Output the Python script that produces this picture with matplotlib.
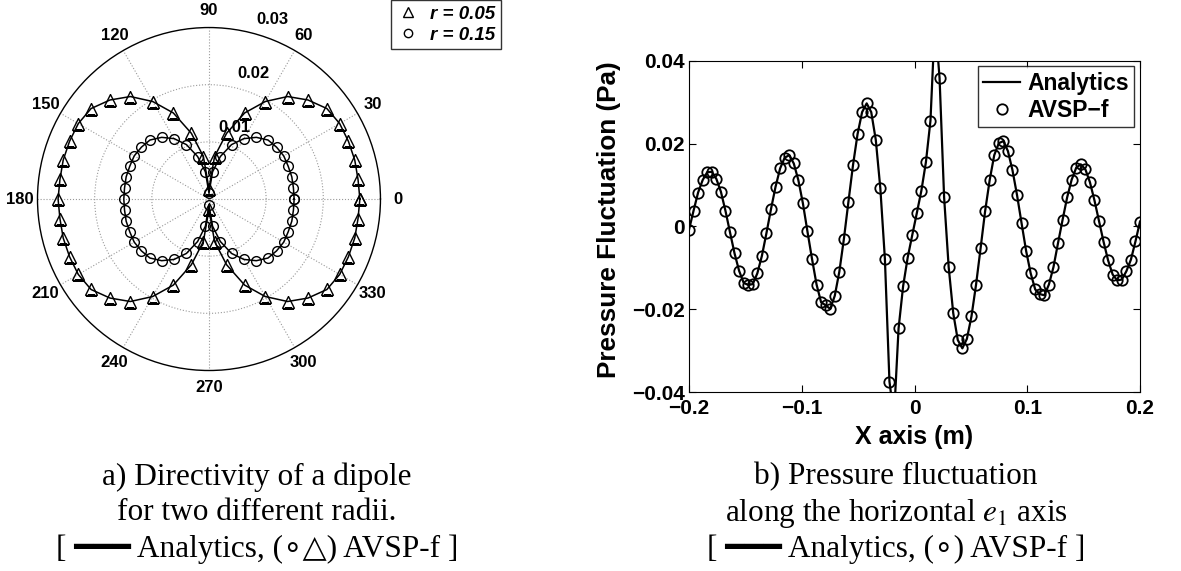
import matplotlib
matplotlib.use('Agg')
import matplotlib.pyplot as plt
from matplotlib.lines import Line2D
import numpy as np

plt.rcParams['font.family'] = ['Liberation Sans', 'DejaVu Sans']
plt.rcParams['mathtext.fontset'] = 'stix'

# --- directivity (left), one quadrant, 0..90 deg
theta_q = np.array([0, 7.5, 15, 22.5, 30, 37.5, 45, 52.5, 60, 67.5, 75, 82.5, 90])
r005_q = np.array([0.0264, 0.0263, 0.0264, 0.0264, 0.0264, 0.0260, 0.0245,
                   0.0226, 0.0197, 0.0163, 0.0119, 0.0075, 0.0018])
r015_q = np.array([0.0149, 0.0149, 0.0150, 0.0150, 0.0151, 0.0149, 0.0146,
                   0.0136, 0.0122, 0.0103, 0.0077, 0.0048, 0.0010])
rings = [0.01, 0.02, 0.03]
angle_labels = ['0', '30', '60', '90', '120', '150', '180', '210', '240', '270', '300', '330']

# --- pressure along e1 (right)
x_pos = np.linspace(-0.2, 0.2, 100)
p_fluct = [
    -0.0008, 0.0038, 0.0082, 0.0112, 0.0131, 0.0132, 0.0115, 0.0084, 0.0038, -0.0014,
    -0.0065, -0.0107, -0.0136, -0.0141, -0.0139, -0.0113, -0.0071, -0.0016, 0.0042, 0.0096,
    0.0140, 0.0166, 0.0172, 0.0152, 0.0112, 0.0056, -0.0012, -0.0078, -0.0140, -0.0183,
    -0.0190, -0.0199, -0.0167, -0.0109, -0.0030, 0.0060, 0.0148, 0.0223, 0.0276, 0.0297,
    0.0276, 0.0209, 0.0092, -0.0078, -0.0374, -0.0460, -0.0246, -0.0144, -0.0075, -0.0021,
    0.0032, 0.0086, 0.0155, 0.0255, 0.0500, 0.0358, 0.0070, -0.0098, -0.0209, -0.0274,
    -0.0294, -0.0271, -0.0217, -0.0141, -0.0053, 0.0037, 0.0112, 0.0172, 0.0201, 0.0206,
    0.0182, 0.0136, 0.0076, 0.0008, -0.0059, -0.0113, -0.0152, -0.0163, -0.0166, -0.0140,
    -0.0098, -0.0040, 0.0016, 0.0070, 0.0113, 0.0142, 0.0150, 0.0138, 0.0107, 0.0063,
    0.0013, -0.0037, -0.0082, -0.0116, -0.0130, -0.0128, -0.0108, -0.0080, -0.0036, 0.0012]
xticks = [-0.2, -0.1, 0, 0.1, 0.2]
xticklabels = ['\u22120.2', '\u22120.1', '0', '0.1', '0.2']
yticks = [-0.04, -0.02, 0, 0.02, 0.04]
yticklabels = ['\u22120.04', '\u22120.02', '0', '0.02', '0.04']


def full_turn(q):
    # the pattern is symmetric about both axes
    return np.concatenate([q, q[::-1][1:], q[1:], q[::-1][1:]])

theta_full = np.concatenate([theta_q, 180 - theta_q[::-1][1:],
                             180 + theta_q[1:], 360 - theta_q[::-1][1:]])
th = np.deg2rad(theta_full)

fig = plt.figure(figsize=(11.81, 5.71), dpi=100)

# polar plot
axp = fig.add_axes([0.03175, 0.3511, 0.2904, 0.6007], projection='polar')
axp.plot(th, full_turn(r005_q), '-k', lw=1.1)
axp.plot(th, full_turn(r005_q), 'k^', mfc='none', ms=8, mew=1.0)
axp.plot(th, full_turn(r015_q), '-k', lw=1.1)
axp.plot(th, full_turn(r015_q), 'ko', mfc='none', ms=7, mew=1.0)
axp.set_rlim(0, 0.03)
axp.set_rgrids(rings[:2], labels=['', ''])
axp.set_thetagrids(np.arange(0, 360, 30), angle_labels, fontsize=12, fontweight='bold')
axp.tick_params(axis='x', pad=5.5, size=0)
axp.grid(True, linestyle=':', color='#999999', lw=0.8)
axp.spines['polar'].set_linewidth(1.0)
for r in rings:
    axp.text(np.deg2rad(70.5), r + 0.0033, '%g' % r, ha='center', va='center',
             fontsize=12, fontweight='bold')

leg_handles = [Line2D([], [], ls='none', marker='^', mfc='none', mec='k', ms=7, mew=1.0),
               Line2D([], [], ls='none', marker='o', mfc='none', mec='k', ms=6, mew=1.0)]
fig.legend(leg_handles, ['r = 0.05', 'r = 0.15'], loc='upper left',
           bbox_to_anchor=(390.7 / 1181, 1.0), borderaxespad=0.0,
           frameon=True, fancybox=False, edgecolor='k', handlelength=1.2,
           handletextpad=0.6, borderpad=0.3, labelspacing=0.2,
           prop={'weight': 'bold', 'style': 'italic', 'size': 13.5})

# pressure fluctuation
ax = fig.add_axes([0.5834, 0.3130, 0.3819, 0.5807])
ax.plot(x_pos, p_fluct, '-k', lw=1.6, label='Analytics')
ax.plot(x_pos, p_fluct, 'ko', mfc='none', ms=7.5, mew=1.3, label='AVSP\u2212f')
ax.set_xlim(-0.2, 0.2)
ax.set_ylim(-0.04, 0.04)
ax.set_xticks(xticks)
ax.set_xticklabels(xticklabels)
ax.set_yticks(yticks)
ax.set_yticklabels(yticklabels)
ax.tick_params(direction='in', top=True, right=True, length=5, labelsize=15)
ax.tick_params(axis='y', pad=3)
ax.tick_params(axis='x', pad=5)
for lab in ax.get_xticklabels() + ax.get_yticklabels():
    lab.set_fontweight('bold')
ax.set_xlabel('X axis (m)', fontsize=18, fontweight='bold')
ax.set_ylabel('Pressure Fluctuation (Pa)', fontsize=18.8, fontweight='bold')
ax.xaxis.set_label_coords(0.5, -0.098)
ax.yaxis.set_label_coords(-0.150, 0.52)
ax.legend(loc='upper right', frameon=True, fancybox=False, edgecolor='k',
          handlelength=1.6, handletextpad=0.3, borderpad=0.25, labelspacing=0.15,
          borderaxespad=0.25, prop={'weight': 'bold', 'size': 16.5})

# captions
cap_font = ['Liberation Serif', 'DejaVu Sans']
cap_a = ['a) Directivity of a dipole', 'for two different radii.',
         '[ \u2501\u2501\u2501 Analytics, (\u2218\u25b3) AVSP-f ]']
cap_b = ['b) Pressure fluctuation', 'along the horizontal $e_1$ axis',
         '[ \u2501\u2501\u2501 Analytics, (\u2218) AVSP-f ]']
for i, (ta, tb) in enumerate(zip(cap_a, cap_b)):
    y = 1 - (477 + 36 * i) / 571
    fig.text(257 / 1181, y, ta, ha='center', va='center', fontsize=22.5, family=cap_font)
    fig.text(896 / 1181, y, tb, ha='center', va='center', fontsize=22.5, family=cap_font)

fig.savefig('out.png', dpi=100)
